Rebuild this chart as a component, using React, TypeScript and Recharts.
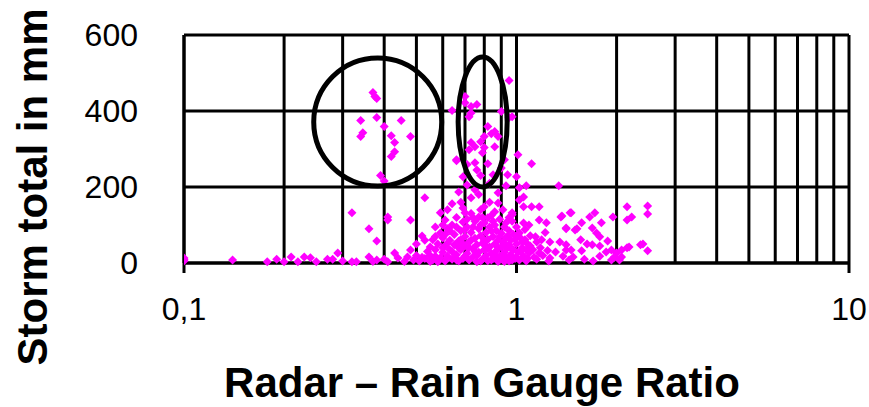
import { CartesianGrid, Label, ReferenceDot, ReferenceLine, Scatter, ScatterChart, XAxis, YAxis } from "recharts"

// [radar/gauge ratio, storm total mm]
const gaugePoints: [number, number][] = [
  // low row left of the cluster
  [0.1, 5], [0.1, 13], [0.1, 9], [0.14, 8], [0.178, 3], [0.19, 10], [0.2, 3], [0.21, 16],
  [0.22, 3], [0.23, 16], [0.24, 14], [0.25, 3], [0.27, 10], [0.28, 10], [0.29, 26], [0.3, 5],
  [0.32, 3], [0.33, 3], [0.36, 16], [0.37, 4], [0.38, 8], [0.4, 10], [0.41, 3], [0.43, 26],
  [0.44, 13], [0.46, 4], [0.47, 16], [0.48, 34], [0.49, 8], [0.5, 20], [0.51, 5], [0.53, 12],
  [0.54, 30], [0.55, 4], [0.57, 18], [0.58, 8],
  // mid points left
  [0.32, 132], [0.36, 90], [0.38, 58], [0.41, 121], [0.41, 113], [0.48, 113], [0.53, 172],
  [0.52, 71], [0.59, 132], [0.57, 95], [0.59, 79], [0.56, 61], [0.61, 113], [0.55, 42],
  // circled group
  [0.37, 449], [0.375, 438], [0.38, 433], [0.34, 375], [0.38, 383], [0.45, 375], [0.4, 359],
  [0.345, 343], [0.34, 333], [0.42, 335], [0.43, 317], [0.48, 333], [0.43, 293], [0.42, 280],
  [0.39, 230], [0.4, 216],
  // ellipse group and upper cluster
  [0.64, 401], [0.7, 422], [0.7, 438], [0.73, 412], [0.76, 417], [0.72, 385], [0.73, 395],
  [0.9, 399], [0.95, 383], [0.95, 480], [0.97, 385], [0.82, 359], [0.86, 346], [0.8, 333],
  [0.88, 333], [0.73, 317], [0.75, 306], [0.78, 319], [0.72, 298], [0.8, 304], [0.86, 306],
  [1.01, 285], [0.66, 272], [0.71, 259], [0.75, 264], [0.82, 261], [0.92, 272], [1.11, 261],
  [0.69, 227], [0.78, 230], [0.85, 232], [0.94, 232], [1.0, 227], [0.67, 187], [0.75, 193],
  [0.93, 203], [0.66, 269], [1.34, 203], [0.64, 156], [0.73, 172], [0.8, 148], [0.88, 158],
  [1.02, 166], [0.7, 132], [0.77, 121], [0.82, 119], [0.97, 127], [1.05, 148], [1.02, 198],
  [1.07, 203], [1.05, 174], [1.11, 148], [1.17, 148], [1.37, 124], [1.45, 132], [1.17, 113],
  [1.23, 106], [1.41, 92], [1.5, 87], [1.09, 100], [1.14, 69], [1.19, 61], [1.26, 55],
  [1.35, 55], [1.02, 79], [1.06, 61], [0.95, 48], [0.93, 106], [0.97, 132], [1.17, 26],
  [1.26, 13], [1.41, 34], [1.44, 8], [1.31, 29], [1.09, 26], [0.84, 340], [0.79, 290],
  [0.9, 250], [0.76, 245], [0.83, 210], [0.88, 185], [0.71, 205],
  // right spread
  [2.15, 148], [2.48, 150], [2.48, 129], [2.22, 121], [2.15, 113], [1.95, 121], [1.72, 132],
  [1.66, 121], [1.46, 132], [1.36, 121], [1.57, 106], [1.8, 106], [1.69, 92], [1.41, 90],
  [1.52, 90], [1.74, 79], [1.78, 69], [1.56, 61], [1.88, 58], [1.63, 50], [1.69, 48],
  [1.41, 48], [2.4, 50], [2.48, 32], [2.18, 42], [2.07, 34], [2.0, 26], [1.93, 34],
  [1.86, 29], [1.78, 18], [1.97, 16], [2.07, 16], [1.57, 32], [1.48, 16], [1.38, 18],
  [1.78, 45], [1.46, 34], [2.36, 48], [2.15, 40], [2.04, 8], [1.93, 8], [1.6, 10], [1.7, 5],
  [1.25, 5], [1.15, 10],
  // dense cluster
  [0.55, 20], [0.56, 8], [0.57, 35], [0.58, 50], [0.59, 14], [0.6, 28], [0.6, 66], [0.61, 5],
  [0.61, 45], [0.62, 90], [0.62, 18], [0.63, 60], [0.63, 35], [0.64, 10], [0.64, 100],
  [0.65, 75], [0.65, 48], [0.66, 22], [0.66, 120], [0.67, 5], [0.67, 58], [0.68, 85],
  [0.68, 35], [0.69, 12], [0.69, 108], [0.7, 70], [0.7, 45], [0.71, 25], [0.71, 95],
  [0.72, 8], [0.72, 55], [0.73, 130], [0.73, 80], [0.74, 38], [0.74, 16], [0.75, 65],
  [0.75, 110], [0.76, 3], [0.76, 48], [0.77, 90], [0.77, 28], [0.78, 72], [0.78, 140],
  [0.79, 10], [0.79, 52], [0.8, 105], [0.8, 35], [0.81, 80], [0.81, 20], [0.82, 62],
  [0.82, 6], [0.83, 95], [0.83, 42], [0.84, 125], [0.84, 25], [0.85, 70], [0.85, 12],
  [0.86, 50], [0.86, 100], [0.87, 32], [0.87, 85], [0.88, 4], [0.88, 60], [0.89, 18],
  [0.89, 115], [0.9, 42], [0.9, 78], [0.91, 8], [0.91, 55], [0.92, 95], [0.92, 28],
  [0.93, 68], [0.93, 14], [0.94, 40], [0.95, 85], [0.95, 5], [0.96, 60], [0.96, 22],
  [0.97, 110], [0.98, 35], [0.98, 75], [0.99, 12], [1.0, 50], [1.0, 95], [1.01, 28],
  [1.02, 8], [1.03, 65], [1.04, 40], [1.05, 18], [1.06, 88], [1.07, 5], [1.08, 50],
  [1.1, 72], [1.12, 35], [1.13, 15], [1.15, 55], [1.18, 40], [1.2, 20], [1.22, 80],
  [1.24, 33], [0.58, 3], [0.62, 52], [0.64, 30], [0.66, 8], [0.67, 40], [0.68, 62],
  [0.7, 18], [0.72, 40], [0.74, 95], [0.76, 20], [0.78, 5], [0.8, 60], [0.82, 38],
  [0.84, 8], [0.86, 22], [0.88, 40], [0.9, 20], [0.92, 4], [0.94, 70], [0.96, 40],
  [0.99, 62], [1.03, 30], [1.05, 105], [1.08, 12], [0.5, 50], [0.52, 15], [0.53, 60],
  [0.6, 100], [0.63, 85], [0.69, 145], [0.71, 115], [0.79, 120], [0.86, 135], [0.91, 140],
  [0.83, 160], [0.77, 180], [0.68, 160], [0.62, 140], [0.61, 75], [0.65, 15], [0.69, 50],
  [0.73, 60], [0.75, 30], [0.78, 100], [0.81, 45], [0.84, 85], [0.87, 10], [0.89, 70],
  [0.93, 48], [0.97, 8], [1.0, 15], [1.01, 75], [1.04, 55], [1.07, 35], [1.1, 45],
  [0.66, 95], [0.7, 88], [0.74, 120], [0.85, 110], [0.95, 120], [0.57, 70], [0.6, 40],
]

const xTicks = [0.1, 1, 10]
const xMinorLines = [0.2, 0.3, 0.4, 0.5, 0.6, 0.7, 0.8, 0.9, 2, 3, 4, 5, 6, 7, 8, 9]
const yTicks = [0, 200, 400, 600]

// hand-drawn rings on the original: [ratio, total] centres
const ringCentres: [number, number][] = [[0.3825, 371], [0.791, 371]]
const ringRadii = [[64, 64], [24.5, 65]]

const font = "'Liberation Sans', Arial, sans-serif"

const data = gaugePoints.map(([ratio, total]) => ({ ratio, total }))

const Diamond = (props: any) => {
  const { cx, cy } = props
  if (cx == null || cy == null) return null
  const r = 4.5
  return <path d={`M${cx},${cy - r}L${cx + r},${cy}L${cx},${cy + r}L${cx - r},${cy}Z`} fill="#FF00FF" />
}

export default function App() {
  return (
    <div style={{ position: "absolute", left: 0, top: 0, background: "#fff" }}>
      <ScatterChart width={869} height={407} margin={{ top: 35, right: 20, bottom: 84, left: 84 }}>
        <CartesianGrid stroke="#000" strokeWidth={3} />
        {xMinorLines.map((v) => (
          <ReferenceLine key={v} x={v} stroke="#000" strokeWidth={3} />
        ))}
        <XAxis
          type="number"
          dataKey="ratio"
          scale="log"
          domain={[0.1, 10]}
          ticks={xTicks}
          allowDataOverflow
          height={60}
          stroke="#000"
          strokeWidth={3}
          tickSize={10}
          tickMargin={24}
          tick={{ fill: "#000", fontSize: 32, fontFamily: font }}
          tickFormatter={(v) => String(v).replace(".", ",")}
        >
          <Label
            content={() => (
              <text x={482} y={397} textAnchor="middle" fontSize={42} fontWeight="bold" fontFamily={font} fill="#000">
                Radar – Rain Gauge Ratio
              </text>
            )}
          />
        </XAxis>
        <YAxis
          type="number"
          dataKey="total"
          domain={[0, 600]}
          ticks={yTicks}
          width={100}
          stroke="#000"
          strokeWidth={3}
          tickLine={false}
          tickSize={0}
          tickMargin={46}
          tick={{ fill: "#000", fontSize: 32, fontFamily: font }}
        >
          <Label
            content={() => (
              <text
                x={47}
                y={187}
                transform="rotate(-90 47 187)"
                textAnchor="middle"
                fontSize={42}
                fontWeight="bold"
                fontFamily={font}
                fill="#000"
              >
                Storm total in mm
              </text>
            )}
          />
        </YAxis>
        <Scatter data={data} shape={Diamond} isAnimationActive={false} />
        {ringCentres.map(([x, y], i) => (
          <ReferenceDot
            key={i}
            x={x}
            y={y}
            shape={(p: any) => (
              <ellipse cx={p.cx} cy={p.cy} rx={ringRadii[i][0]} ry={ringRadii[i][1]} fill="none" stroke="#000" strokeWidth={5} />
            )}
          />
        ))}
      </ScatterChart>
    </div>
  )
}
